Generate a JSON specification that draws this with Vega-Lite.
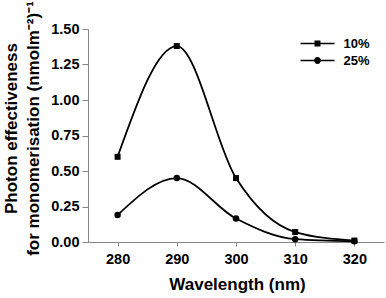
{
  "$schema": "https://vega.github.io/schema/vega-lite/v6.json",
  "autosize": "none",
  "width": 296,
  "height": 213,
  "padding": {"left": 88, "top": 29, "right": 2, "bottom": 56},
  "background": "white",
  "config": {
    "view": {"stroke": null},
    "font": "Liberation Sans",
    "axis": {
      "grid": false,
      "domainColor": "#868686",
      "tickColor": "#868686",
      "domainWidth": 1,
      "labelFont": "Liberation Sans",
      "labelFontWeight": "bold",
      "labelFontSize": 14.5,
      "labelColor": "black",
      "titleFont": "Liberation Sans",
      "titleFontWeight": "bold",
      "titleFontSize": 17,
      "titleColor": "black"
    }
  },
  "data": {
    "values": [
      {"wavelength": 280, "effect": 0.60, "series": "10%"},
      {"wavelength": 290, "effect": 1.38, "series": "10%"},
      {"wavelength": 300, "effect": 0.45, "series": "10%"},
      {"wavelength": 310, "effect": 0.07, "series": "10%"},
      {"wavelength": 320, "effect": 0.01, "series": "10%"},
      {"wavelength": 280, "effect": 0.19, "series": "25%"},
      {"wavelength": 290, "effect": 0.45, "series": "25%"},
      {"wavelength": 300, "effect": 0.165, "series": "25%"},
      {"wavelength": 310, "effect": 0.02, "series": "25%"},
      {"wavelength": 320, "effect": 0.005, "series": "25%"}
    ]
  },
  "encoding": {
    "x": {
      "field": "wavelength",
      "type": "quantitative",
      "scale": {"domain": [275, 325], "nice": false, "zero": false},
      "axis": {
        "values": [280, 290, 300, 310, 320],
        "format": "d",
        "tickSize": 4,
        "labelPadding": 6,
        "title": "Wavelength (nm)",
        "titleX": 149,
        "titleY": 42,
        "titleBaseline": "middle",
        "titleAlign": "center"
      }
    },
    "y": {
      "field": "effect",
      "type": "quantitative",
      "scale": {"domain": [0, 1.5], "nice": false},
      "axis": {
        "values": [0, 0.25, 0.5, 0.75, 1.0, 1.25, 1.5],
        "format": ".2f",
        "tickSize": 6,
        "labelPadding": 3,
        "title": ["Photon effectiveness", "for monomerisation (nmolm⁻²)⁻¹"],
        "titleX": -85,
        "titleY": 99,
        "titleAngle": -90,
        "titleAlign": "center",
        "titleBaseline": "top",
        "titleLineHeight": 22
      }
    }
  },
  "layer": [
    {
      "mark": {"type": "line", "interpolate": "monotone", "color": "black", "strokeWidth": 1.8},
      "encoding": {"detail": {"field": "series"}}
    },
    {
      "transform": [{"filter": "datum.series === '10%'"}],
      "mark": {"type": "point", "shape": "square", "filled": true, "color": "black", "opacity": 1, "size": 36}
    },
    {
      "transform": [{"filter": "datum.series === '25%'"}],
      "mark": {"type": "point", "shape": "circle", "filled": true, "color": "black", "opacity": 1, "size": 42}
    },
    {
      "mark": {"type": "point", "filled": true, "color": "black", "opacity": 0, "size": 10},
      "encoding": {
        "shape": {
          "field": "series",
          "type": "nominal",
          "scale": {
            "domain": ["10%", "25%"],
            "range": [
              "M-2,-0.09L2,-0.09L2,0.09L-2,0.09ZM-0.35,-0.35L0.35,-0.35L0.35,0.35L-0.35,0.35Z",
              "M-2,-0.09L2,-0.09L2,0.09L-2,0.09ZM0.4,0A0.4,0.4 0 1,1 -0.4,0A0.4,0.4 0 1,1 0.4,0Z"
            ]
          },
          "legend": {
            "title": null,
            "orient": "none",
            "legendX": 221,
            "legendY": 6,
            "symbolSize": 289,
            "symbolFillColor": "black",
            "symbolStrokeWidth": 0,
            "symbolOpacity": 1,
            "labelOffset": 17.5,
            "labelFont": "Liberation Sans",
            "labelFontWeight": "bold",
            "labelFontSize": 13,
            "labelColor": "black",
            "rowPadding": 1,
            "padding": 0
          }
        }
      }
    }
  ]
}
